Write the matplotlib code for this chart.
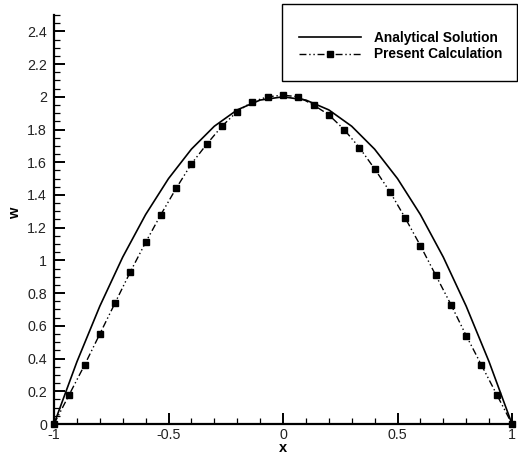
import matplotlib
matplotlib.use("Agg")
import matplotlib.pyplot as plt
from matplotlib.lines import Line2D
from matplotlib.patches import Rectangle
from matplotlib.ticker import MultipleLocator, FormatStrFormatter

plt.rcParams['font.family'] = ['Liberation Sans', 'DejaVu Sans']

# Analytical solution
x_an = [-1.0, -0.9, -0.8, -0.7, -0.6, -0.5, -0.4, -0.3, -0.2, -0.1, 0.0,
        0.1, 0.2, 0.3, 0.4, 0.5, 0.6, 0.7, 0.8, 0.9, 1.0]
w_an = [0.0, 0.38, 0.72, 1.02, 1.28, 1.50, 1.68, 1.82, 1.92, 1.98, 2.0,
        1.98, 1.92, 1.82, 1.68, 1.50, 1.28, 1.02, 0.72, 0.38, 0.0]

# Present calculation (markers)
x_pc = [-1.0, -0.9333, -0.8667, -0.8, -0.7333, -0.6667, -0.6, -0.5333, -0.4667,
        -0.4, -0.3333, -0.2667, -0.2, -0.1333, -0.0667, 0.0, 0.0667, 0.1333,
        0.2, 0.2667, 0.3333, 0.4, 0.4667, 0.5333, 0.6, 0.6667, 0.7333, 0.8,
        0.8667, 0.9333, 1.0]
w_pc = [0.0, 0.18, 0.36, 0.55, 0.74, 0.93, 1.11, 1.28, 1.44, 1.59, 1.71, 1.82,
        1.91, 1.97, 2.00, 2.01, 2.00, 1.95, 1.89, 1.80, 1.69, 1.56, 1.42, 1.26,
        1.09, 0.91, 0.73, 0.54, 0.36, 0.18, 0.0]

x_ticks = [-1, -0.5, 0, 0.5, 1]
y_ticks = [0, 0.2, 0.4, 0.6, 0.8, 1.0, 1.2, 1.4, 1.6, 1.8, 2.0, 2.2, 2.4]

W, H = 518, 454
fig = plt.figure(figsize=(W / 100, H / 100), dpi=100)
ax = fig.add_axes([54 / W, 1 - 424 / H, (512 - 54) / W, (424 - 15) / H])

ax.plot(x_an, w_an, color='black', lw=1.2, solid_joinstyle='miter')
ax.plot(x_pc, w_pc, color='black', lw=1.0, dashes=(5, 2, 1, 2, 1, 2),
        marker='s', markersize=4.5, clip_on=False)

ax.set_xlim(-1, 1)
ax.set_ylim(0, 2.5)
ax.set_xticks(x_ticks)
ax.set_yticks(y_ticks)
ax.xaxis.set_minor_locator(MultipleLocator(0.1))
ax.yaxis.set_minor_locator(MultipleLocator(0.05))
ax.xaxis.set_major_formatter(FormatStrFormatter('%g'))
ax.yaxis.set_major_formatter(FormatStrFormatter('%g'))

for s in ['top', 'right']:
    ax.spines[s].set_visible(False)
for s in ['left', 'bottom']:
    ax.spines[s].set_linewidth(1.6)

ax.tick_params(which='major', direction='in', length=8, width=1.4,
               labelsize=10.3, labelcolor='#222222')
ax.tick_params(which='minor', direction='in', length=4.5, width=0.9)
ax.tick_params(axis='y', pad=5)
ax.tick_params(axis='x', pad=3)

ax.set_xlabel('x', fontsize=10.5, fontweight='bold')
ax.set_ylabel('w', fontsize=10.5, fontweight='bold')
ax.xaxis.label.set_va('baseline')
ax.xaxis.set_label_coords(0.5, (424 - 452) / 409)
ax.yaxis.set_label_coords((22 - 54) / 458, 0.516)

# legend box
fig.patches.append(Rectangle((282 / W, 1 - 81 / H), (517 - 282) / W, 77 / H,
                             transform=fig.transFigure, fill=False,
                             edgecolor='black', lw=1.0))
handles = [Line2D([], [], color='black', lw=1.2),
           Line2D([], [], color='black', lw=1.0, dashes=(5, 2, 1, 2, 1, 2),
                  marker='s', markersize=4.5)]
leg = fig.legend(handles, ['Analytical Solution', 'Present Calculation'],
                 loc='center', bbox_to_anchor=(401 / W, 1 - 46 / H),
                 frameon=False, prop={'weight': 'bold', 'size': 9.9},
                 handlelength=4.5, handletextpad=0.95, labelspacing=0.2,
                 numpoints=1)
fig.savefig('out.png', dpi=100)
